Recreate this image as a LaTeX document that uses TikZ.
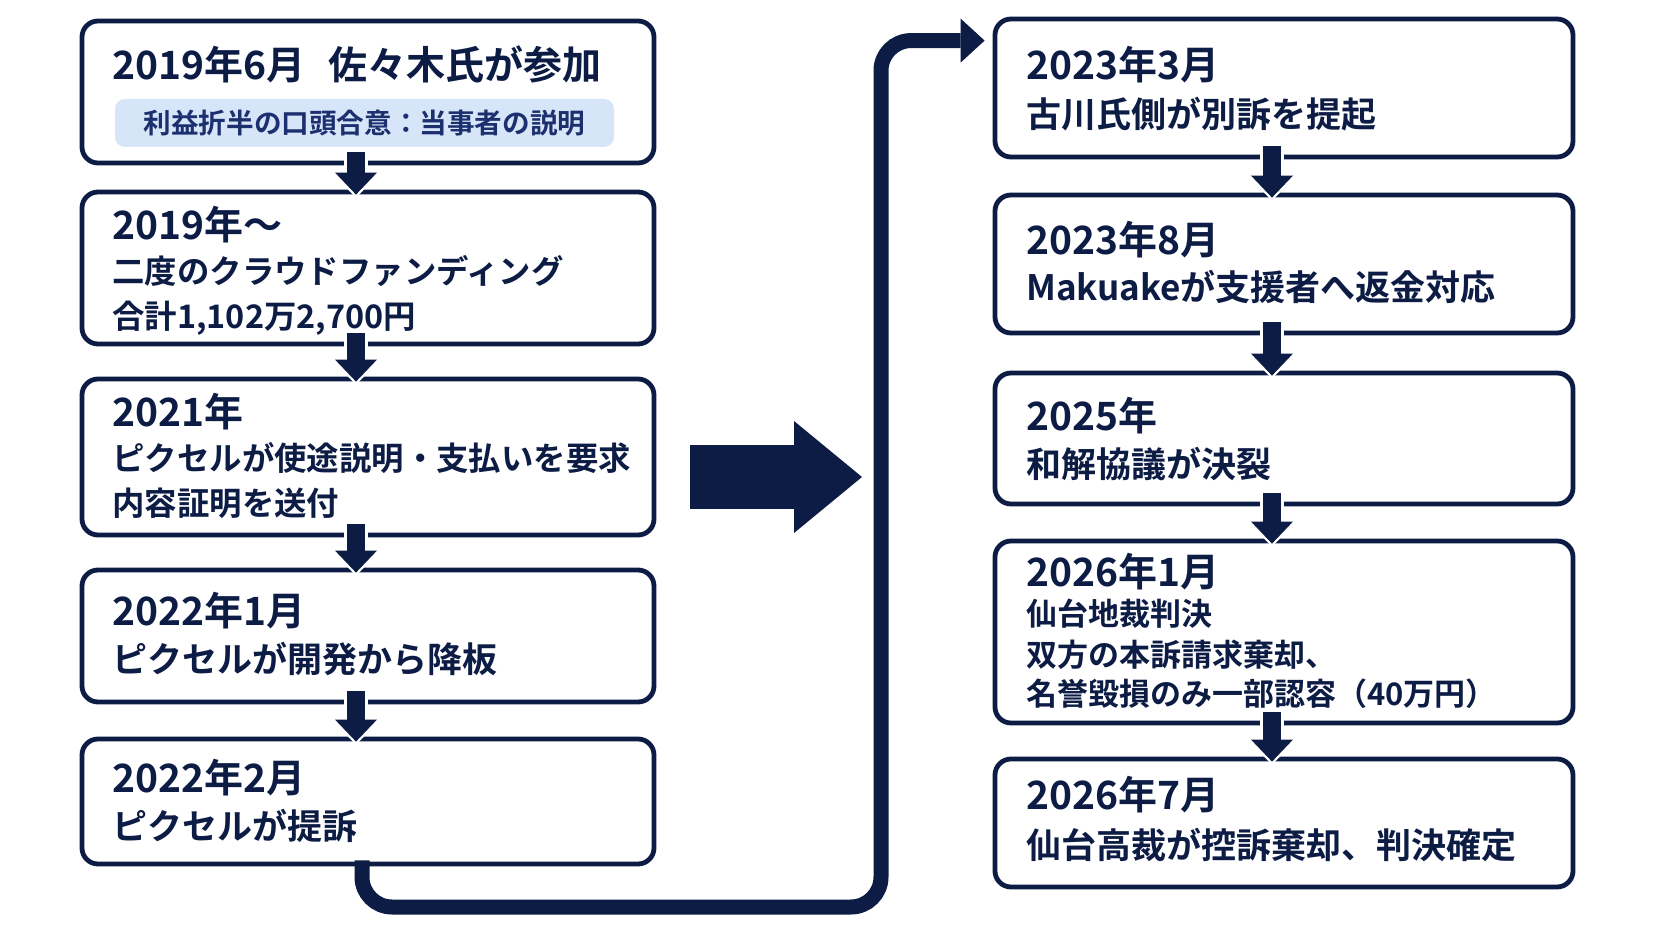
\documentclass[tikz,border=0pt]{standalone}
\usepackage{fontspec}
\setmainfont{Noto Sans CJK JP}[BoldFont={Noto Sans CJK JP Bold}]
\usetikzlibrary{arrows.meta}
\definecolor{navy}{HTML}{0C1C44}
\definecolor{labelblue}{HTML}{D6E6F8}
\definecolor{labeltext}{HTML}{1C2F6E}
\begin{document}
\begin{tikzpicture}[x=0.5pt,y=-0.5pt,
  box/.style={draw=navy, line width=2.4pt, rounded corners=8pt, fill=white, inner sep=0pt},
  sublabel/.style={fill=labelblue, rounded corners=5pt, inner sep=0pt, text=labeltext,
    font=\fontsize{13.8pt}{16pt}\bfseries},
  yr/.style={anchor=base west, inner sep=0pt, text=navy, font=\fontsize{19.5pt}{22pt}\bfseries},
  txt/.style={anchor=base west, inner sep=0pt, text=navy, font=\fontsize{17.5pt}{20pt}\bfseries},
  txtm/.style={anchor=base west, inner sep=0pt, text=navy, font=\fontsize{16.2pt}{19pt}\bfseries},
  txts/.style={anchor=base west, inner sep=0pt, text=navy, font=\fontsize{15.5pt}{18pt}\bfseries},
  dnhalo/.style={draw=white, line width=12pt, -{Triangle[length=14pt,width=28pt,line width=0pt]}},
  dnarrow/.style={draw=navy, line width=9pt, -{Triangle[length=11pt,width=21pt,line width=0pt]}},
  bigarrow/.style={draw=navy, line width=31.5pt, -{Triangle[length=34pt,width=56pt,line width=0pt]}},
  connector/.style={draw=navy, line width=7.5pt, rounded corners=15pt,
    -{Triangle[length=12pt,width=22pt,line width=0pt]}}
]
\fill[white] (0,0) rectangle (1672,941);
\useasboundingbox (0,0) rectangle (1672,941);

% left column boxes
\node[box, minimum width=286pt, minimum height=71pt]   (L1) at (368,92) {};
\node[box, minimum width=286pt, minimum height=76pt]   (L2) at (368,268) {};
\node[box, minimum width=286pt, minimum height=78pt]   (L3) at (368,457) {};
\node[box, minimum width=286pt, minimum height=66pt]   (L4) at (368,636) {};
\node[box, minimum width=286pt, minimum height=62.5pt] (L5) at (368,801.5) {};
% right column boxes
\node[box, minimum width=289pt, minimum height=69pt]   (R1) at (1284,88) {};
\node[box, minimum width=289pt, minimum height=69pt]   (R2) at (1284,264) {};
\node[box, minimum width=289pt, minimum height=65.5pt] (R3) at (1284,438.5) {};
\node[box, minimum width=289pt, minimum height=91pt]   (R4) at (1284,632) {};
\node[box, minimum width=289pt, minimum height=64pt]   (R5) at (1284,823) {};

% texts, left
\node[yr] (t1a) at (112,80) {2019年6月\hspace{0.6em}佐々木氏が参加};
\node[sublabel, minimum width=249.5pt, minimum height=24pt] (t1b) at (364.5,123) {利益折半の口頭合意：当事者の説明};
\node[yr]   (t2a) at (112,240) {2019年〜};
\node[txtm] (t2b) at (112,284) {二度のクラウドファンディング};
\node[txtm] (t2c) at (112,329) {合計1,102万2,700円};
\node[yr]   (t3a) at (112,427) {2021年};
\node[txtm] (t3b) at (112,471) {ピクセルが使途説明・支払いを要求};
\node[txtm] (t3c) at (112,515) {内容証明を送付};
\node[yr]   (t4a) at (112,625) {2022年1月};
\node[txt]  (t4b) at (112,672) {ピクセルが開発から降板};
\node[yr]   (t5a) at (112,792) {2022年2月};
\node[txt]  (t5b) at (112,839) {ピクセルが提訴};
% texts, right
\node[yr]   (u1a) at (1026,80) {2023年3月};
\node[txt]  (u1b) at (1026,128) {古川氏側が別訴を提起};
\node[yr]   (u2a) at (1026,255) {2023年8月};
\node[txt]  (u2b) at (1026,301) {Makuakeが支援者へ返金対応};
\node[yr]   (u3a) at (1026,430) {2025年};
\node[txt]  (u3b) at (1026,478) {和解協議が決裂};
\node[yr]   (u4a) at (1026,586) {2026年1月};
\node[txts] (u4b) at (1026,625) {仙台地裁判決};
\node[txts] (u4c) at (1026,666) {双方の本訴請求棄却、};
\node[txts] (u4d) at (1026,705) {名誉毀損のみ一部認容（40万円）};
\node[yr]   (u5a) at (1026,809) {2026年7月};
\node[txt]  (u5b) at (1026,858) {仙台高裁が控訴棄却、判決確定};

% down arrows
\foreach \a/\b in {L1/L2,L2/L3,L3/L4,L4/L5}{
  \draw[dnhalo] ([xshift=-6pt,yshift=7.5pt]\a.south) -- ([xshift=-6pt,yshift=-4pt]\b.north);
  \draw[dnarrow] ([xshift=-6pt,yshift=6.5pt]\a.south) -- ([xshift=-6pt,yshift=-2.5pt]\b.north);
}
\foreach \a/\b in {R1/R2,R2/R3,R3/R4,R4/R5}{
  \draw[dnhalo] ([xshift=-6pt,yshift=7.5pt]\a.south) -- ([xshift=-6pt,yshift=-4pt]\b.north);
  \draw[dnarrow] ([xshift=-6pt,yshift=6.5pt]\a.south) -- ([xshift=-6pt,yshift=-2.5pt]\b.north);
}

% big middle arrow
\coordinate (bigA) at (690,477);
\coordinate (bigB) at (862,477);
\draw[bigarrow] (bigA) -- (bigB);

% connector from L5 to R1
\coordinate (turnB) at (881,907);
\coordinate (R1tip) at ([xshift=-4pt,yshift=-12pt]R1.north west);
\draw[connector] ([xshift=-3pt,yshift=3pt]L5.south) |- (turnB) |- (R1tip);
\end{tikzpicture}
\end{document}
